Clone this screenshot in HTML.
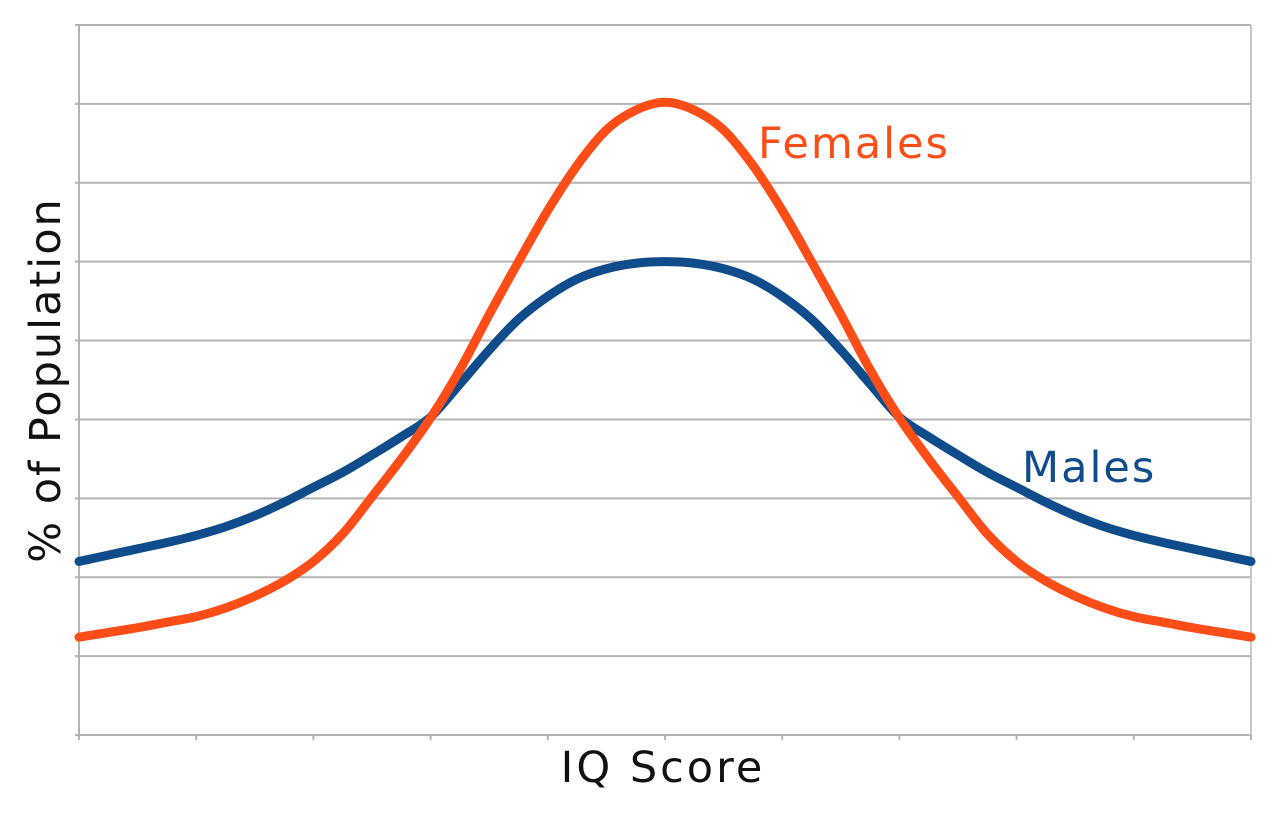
<!DOCTYPE html>
<html><head><meta charset="utf-8"><style>
html,body{margin:0;padding:0;background:#fff;}
svg text{font-family:"DejaVu Sans","Liberation Sans",sans-serif;}
</style></head><body>
<svg id="chart" width="1280" height="810" viewBox="0 0 1280 810" xmlns="http://www.w3.org/2000/svg">
<g id="grid"></g>
<g id="axes"></g>
<g id="series"></g>
<text x="758" y="158" font-size="43" letter-spacing="2" fill="#ff4d17">Females</text>
<text x="1022" y="482" font-size="43" letter-spacing="2" fill="#0f4c8c">Males</text>
<text x="663" y="782" font-size="43" letter-spacing="3" text-anchor="middle" fill="#111">IQ Score</text>
<text transform="translate(60,380) rotate(-90)" font-size="43" letter-spacing="2" text-anchor="middle" fill="#111">% of Population</text>
</svg>
<script>
const xValues = [0,0.25,0.5,0.75,1,1.25,1.5,1.75,2,2.25,2.5,2.75,3,3.25,3.5,3.75,4,4.25,4.5,4.75,5,5.25,5.5,5.75,6,6.25,6.5,6.75,7,7.25,7.5,7.75,8,8.25,8.5,8.75,9,9.25,9.5,9.75,10];
const femalesValues = [1.24,1.30,1.36,1.43,1.50,1.61,1.76,1.95,2.20,2.55,3.02,3.50,4.02,4.63,5.33,6.0,6.65,7.22,7.67,7.92,8.02,7.92,7.67,7.22,6.65,6.0,5.33,4.63,4.02,3.50,3.02,2.55,2.20,1.95,1.76,1.61,1.50,1.43,1.36,1.30,1.24];
const malesValues = [2.20,2.28,2.36,2.44,2.53,2.64,2.78,2.95,3.14,3.33,3.55,3.78,4.03,4.45,4.88,5.27,5.56,5.78,5.91,5.98,6.00,5.98,5.91,5.78,5.56,5.27,4.88,4.45,4.03,3.78,3.55,3.33,3.14,2.95,2.78,2.64,2.53,2.44,2.36,2.28,2.20];
const yTicks = [0,1,2,3,4,5,6,7,8,9];
const xTicks = [0,1,2,3,4,5,6,7,8,9,10];

const L=79,R=1251,T=25,B=735;
const xs=v=>L+(v-0)/(10-0)*(R-L);
const ys=v=>B-(v-0)/(9-0)*(B-T);
const NS="http://www.w3.org/2000/svg";
function mk(tag,parent,attrs){const e=document.createElementNS(NS,tag);for(const k in attrs)e.setAttribute(k,attrs[k]);parent.appendChild(e);return e;}
const grid=document.getElementById('grid'),axes=document.getElementById('axes'),series=document.getElementById('series');
yTicks.forEach(t=>{
  const l=mk('line',grid,{x1:L-4,x2:R,y1:ys(t),y2:ys(t),stroke:'#b3b3b3','stroke-width':2});
  
  
});
const ya=mk('line',axes,{x1:L,x2:L,y1:T,y2:B,stroke:'#b3b3b3','stroke-width':2});


const ra=mk('line',axes,{x1:R,x2:R,y1:T,y2:B,stroke:'#c8c8c8','stroke-width':2});


xTicks.forEach(t=>{
  const l=mk('line',axes,{x1:xs(t),x2:xs(t),y1:B,y2:B+5,stroke:'#b3b3b3','stroke-width':2});
  
  
});
function pathFor(vals){
  const p=xValues.map((x,i)=>[xs(x),ys(vals[i])]);
  let d='M'+p[0][0]+','+p[0][1];
  for(let i=0;i<p.length-1;i++){
    const p0=p[Math.max(0,i-1)],p1=p[i],p2=p[i+1],p3=p[Math.min(p.length-1,i+2)];
    const c1=[p1[0]+(p2[0]-p0[0])/6,p1[1]+(p2[1]-p0[1])/6];
    const c2=[p2[0]-(p3[0]-p1[0])/6,p2[1]-(p3[1]-p1[1])/6];
    d+=' C'+c1[0]+','+c1[1]+' '+c2[0]+','+c2[1]+' '+p2[0]+','+p2[1];
  }
  return d;
}
const m=mk('path',series,{d:pathFor(malesValues),fill:'none',stroke:'#0f4c8c','stroke-width':9,'stroke-linecap':'round'});


const f=mk('path',series,{d:pathFor(femalesValues),fill:'none',stroke:'#ff4d17','stroke-width':9,'stroke-linecap':'round'});


</script>
</body></html>
